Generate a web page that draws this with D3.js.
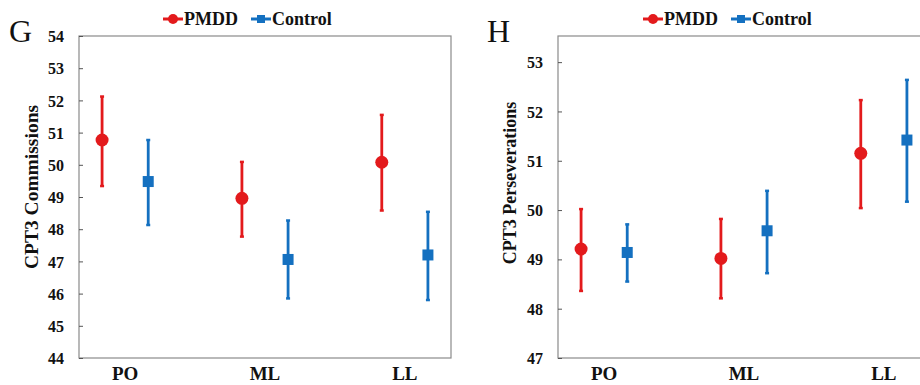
<!DOCTYPE html>
<html>
<head>
<meta charset="utf-8">
<script src="https://cdn.jsdelivr.net/npm/d3@7"></script>
<style>
  body { margin: 0; background: #fff; }
  svg text { font-family: "Liberation Serif", "Times New Roman", serif; font-weight: bold; fill: #111; }
</style>
</head>
<body>
<svg id="chart" width="920" height="385"></svg>
<script>
const categories = ['PO', 'ML', 'LL'];
const seriesNames = ['PMDD', 'Control'];
const colors = ['#e31a1c', '#1470c0'];

// panel G: CPT3 Commissions
const gMean = { PMDD: [50.77, 48.96, 50.08], Control: [49.48, 47.06, 47.2] };
const gLow  = { PMDD: [49.34, 47.77, 48.58], Control: [48.13, 45.85, 45.8] };
const gHigh = { PMDD: [52.12, 50.09, 51.55], Control: [50.77, 48.27, 48.54] };
const gTicks = [44, 45, 46, 47, 48, 49, 50, 51, 52, 53, 54];

// panel H: CPT3 Perseverations
const hMean = { PMDD: [49.21, 49.02, 51.15], Control: [49.14, 49.58, 51.42] };
const hLow  = { PMDD: [48.36, 48.21, 50.04], Control: [48.55, 48.72, 50.17] };
const hHigh = { PMDD: [50.02, 49.82, 52.23], Control: [49.71, 50.39, 52.64] };
const hTicks = [47, 48, 49, 50, 51, 52, 53];

const svg = d3.select('#chart');

function drawPanel(opt) {
  const g = svg.append('g');
  const x = d3.scalePoint().domain(categories).range([opt.left, opt.right]).padding(0.33);
  const y = d3.scaleLinear().domain(opt.domain).range([358, 36]);
  const off = x.step() * 0.165;

  // frame
  g.append('rect')
    .attr('x', opt.left).attr('y', 36)
    .attr('width', opt.right - opt.left).attr('height', 322)
    .attr('fill', 'none').attr('stroke', '#8a8a8a').attr('stroke-width', 1.2);

  // y axis
  const yAxis = g.append('g')
    .attr('transform', `translate(${opt.left},0)`)
    .call(d3.axisLeft(y).tickValues(opt.ticks).tickSize(-4).tickPadding(15).tickFormat(d3.format('d')));
  yAxis.attr('font-family', null);
  yAxis.select('.domain').remove();
  yAxis.selectAll('line').attr('stroke', '#555');
  yAxis.selectAll('text').attr('font-size', 16).attr('dy', '0.35em');

  // category labels
  g.selectAll('.cat')
    .data(categories)
    .enter()
    .append('text')
    .attr('x', d => x(d))
    .attr('y', 380)
    .attr('text-anchor', 'middle')
    .attr('font-size', 19)
    .text(d => d);

  // axis title
  g.append('text')
    .attr('transform', `translate(${opt.titleX},${opt.titleY}) rotate(-90)`)
    .attr('text-anchor', 'middle')
    .attr('font-size', opt.titleSize)
    .text(opt.title);

  // panel letter
  g.append('text')
    .attr('x', opt.letterX).attr('y', 42)
    .attr('font-size', 32)
    .style('font-weight', 'normal')
    .text(opt.letter);

  seriesNames.forEach((s, si) => {
    const dx = si === 0 ? -off : off;
    const pts = categories.map((c, i) => ({
      cx: x(c) + dx, m: opt.mean[s][i], lo: opt.low[s][i], hi: opt.high[s][i]
    }));
    const sg = g.append('g');
    sg.selectAll('.bar')
      .data(pts)
      .enter()
      .append('line')
      .attr('x1', d => d.cx).attr('x2', d => d.cx)
      .attr('y1', d => y(d.lo)).attr('y2', d => y(d.hi))
      .attr('stroke', colors[si]).attr('stroke-width', 2.8);
    ['lo', 'hi'].forEach(k => {
      sg.selectAll('.cap-' + k)
        .data(pts)
        .enter()
        .append('line')
        .attr('x1', d => d.cx - 2).attr('x2', d => d.cx + 2)
        .attr('y1', d => y(d[k])).attr('y2', d => y(d[k]))
        .attr('stroke', colors[si]).attr('stroke-width', 2.5);
    });
    if (si === 0) {
      sg.selectAll('.pt')
        .data(pts)
        .enter()
        .append('circle')
        .attr('cx', d => d.cx).attr('cy', d => y(d.m)).attr('r', 6.5)
        .attr('fill', colors[si]);
    } else {
      sg.selectAll('.pt')
        .data(pts)
        .enter()
        .append('rect')
        .attr('x', d => d.cx - 5.5).attr('y', d => y(d.m) - 5.5)
        .attr('width', 11).attr('height', 11)
        .attr('fill', colors[si]);
    }
  });

  // legend
  const lg = g.append('g').attr('transform', `translate(${opt.legendX},19)`);
  const items = [{ name: 'PMDD', x0: 0 }, { name: 'Control', x0: 88 }];
  items.forEach((it, i) => {
    const w = 20;
    lg.append('line')
      .attr('x1', it.x0).attr('x2', it.x0 + w)
      .attr('y1', 0).attr('y2', 0)
      .attr('stroke', colors[i]).attr('stroke-width', 3);
    if (i === 0) {
      lg.append('circle').attr('cx', it.x0 + w / 2).attr('cy', 0).attr('r', 5).attr('fill', colors[i]);
    } else {
      lg.append('rect').attr('x', it.x0 + w / 2 - 4).attr('y', -4).attr('width', 8).attr('height', 8).attr('fill', colors[i]);
    }
    lg.append('text')
      .attr('x', it.x0 + w + 1).attr('y', 6)
      .attr('font-size', 18)
      .text(it.name);
  });
}

drawPanel({
  left: 79, right: 451, domain: [44, 54], ticks: gTicks,
  mean: gMean, low: gLow, high: gHigh,
  title: 'CPT3 Commissions', titleX: 38, titleY: 187, titleSize: 19.5,
  letter: 'G', letterX: 9, legendX: 163
});

drawPanel({
  left: 558, right: 930, domain: [47, 53.53], ticks: hTicks,
  mean: hMean, low: hLow, high: hHigh,
  title: 'CPT3 Perseverations', titleX: 516, titleY: 183, titleSize: 18,
  letter: 'H', letterX: 487, legendX: 643
});
</script>
</body>
</html>
